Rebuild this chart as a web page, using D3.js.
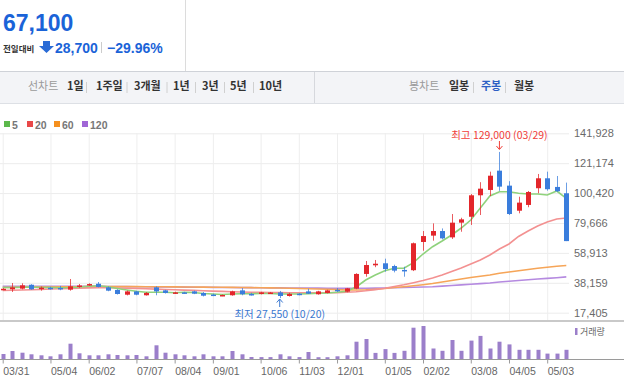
<!DOCTYPE html>
<html><head><meta charset="utf-8">
<script src="https://cdn.jsdelivr.net/npm/d3@7"></script>
<style>
body{margin:0;background:#fff;}
svg{display:block;font-family:"Liberation Sans",Arial,sans-serif;}
.kr{font-family:"Noto Sans CJK KR","Noto Sans",sans-serif;}
</style></head><body>
<svg id="c" width="624" height="392"></svg>
<script>
// ---- data (weekly candles, index 0 = week of 03/31) ----
const opens  = [33600,33650,34100,36800,34000,34700,34600,33400,35500,36400,
                37500,35000,33200,29900,32200,29500,35000,32900,30900,31500,
                32200,31100,30000,29300,29500,32900,30400,30400,30900,31500,
                29000,30600,32200,30200,31100,33300,32000,34100,44300,50300,
                51700,49800,47100,46900,66500,70900,74100,69700,79900,84000,
                98900,102600,116000,105600,88200,92200,103800,110700,104700,100300];
const highs  = [34500,38000,37800,37200,35600,35400,36000,40800,37300,37800,
                38700,35600,33700,32800,32600,31700,35700,33300,32000,31900,
                32700,31800,30600,30000,32700,34500,31200,31900,31800,32500,
                31200,31000,34000,32600,33300,34500,34600,44800,53300,54000,
                54900,50700,49300,66100,74100,79400,75900,85900,83300,99800,
                108000,115300,129000,108700,97900,101900,113700,115300,112300,107700];
const lows   = [33100,31800,33600,33300,32700,33400,33000,32700,34700,36000,
                35000,32300,30000,29400,29500,29300,29500,30700,30400,30600,
                30300,28700,28900,28900,29200,29500,29300,30100,30600,27550,
                28600,29500,30400,29900,30800,31800,31600,33700,42400,49000,
                45900,45400,42400,46300,60400,67400,68300,68600,73600,78300,
                85200,98400,102000,85200,86400,90600,100300,102100,101200,67100];
const closes = [34000,35000,36400,33650,34800,34300,34300,35700,36300,37300,
                35300,32700,30400,32200,29900,31100,32200,31100,31500,31000,
                30600,29200,29600,29700,32200,30200,30000,31500,31400,29000,
                30500,30000,30600,32200,32900,32800,34300,44300,50500,51400,
                47700,46600,46800,65600,70600,74100,69000,79900,82200,98900,
                103500,112500,104900,85900,93800,101200,110700,103100,101700,67100];
const volumes = [500000,800000,630000,470000,370000,270000,470000,1530000,570000,370000,
                 370000,470000,400000,370000,400000,270000,1370000,630000,470000,370000,
                 270000,470000,270000,270000,800000,470000,200000,190000,190000,470000,
                 270000,190000,700000,180000,180000,270000,370000,1730000,2000000,610000,
                 990000,610000,820000,3130000,3300000,1050000,820000,1900000,820000,1840000,
                 2310000,1050000,1730000,1460000,920000,920000,920000,540000,540000,920000];
const ma5   = [34900,34900,35030,35240,34900,34900,34760,34900,35240,35730,
               36080,35380,34200,33160,32260,31560,31560,31560,31290,31560,
               31420,30720,30380,30030,30380,30590,30590,30720,30720,30380,
               30380,30380,30590,30870,31080,31560,32260,35240,40100,43570,
               46560,48220,48220,52110,58150,63220,67170,71330,76190,81750,
               90080,98410,101390,101390,100280,99790,99790,99100,101870,96810];
const ma20  = [32810,32950,33160,33370,33580,33860,34060,34270,34480,34620,
               34690,34690,34550,34410,34200,33990,33790,33510,33300,33090,
               32880,32600,32400,32190,31980,31770,31630,31490,31420,31350,
               31290,31290,31220,31220,31220,31350,31560,31980,32600,33440,
               34410,35590,36770,38230,39750,41490,43570,46000,48430,51210,
               53980,57460,61620,65090,70300,74110,77580,80360,82440,83140];
const ma60  = [34900,34970,35040,35110,35180,35240,35310,35380,35450,35520,
               35590,35560,35530,35500,35480,35450,35410,35370,35320,35280,
               35240,35170,35100,35040,34970,34900,34810,34730,34640,34550,
               34380,34200,34030,33860,33630,33390,33160,33160,33300,33720,
               34200,34900,35450,36080,36840,37670,38710,39750,40800,41840,
               42670,43570,44750,45650,46480,47390,48220,48980,49680,50170];
const ma120 = [35730,35760,35780,35800,35800,35800,35780,35750,35720,35690,
               35660,35610,35560,35500,35440,35380,35330,35270,35210,35160,
               35100,35050,34990,34940,34880,34830,34780,34720,34670,34610,
               34550,34510,34470,34430,34390,34340,34340,34340,34410,34480,
               34550,34700,34860,35030,35240,35450,35860,36280,36700,37120,
               37570,38020,38710,39230,39750,40280,40800,41250,41700,42250];
const tickIdx    = [0,5,9,14,18,22,27,31,35,40,44,49,53,57];
const tickLabels = ["03/31","05/04","06/02","07/07","08/04","09/01","10/06","11/03","12/01","01/05","02/02","03/08","04/05","05/03"];
const priceTicks = [17405,38159,58913,79666,100420,121174,141928];
const maNames  = ["5","20","60","120"];
const highIdx = 52, highLabel = "최고 129,000 (03/29)";
const lowIdx  = 29, lowLabel  = "최저 27,550 (10/20)";
const periodTabs = ["1일","1주일","3개월","1년","3년","5년","10년"];
const candleTabs = ["일봉","주봉","월봉"];

// ---- drawing ----
const svg = d3.select("#c");
const UP="#e3262b", DOWN="#3a7ddc";
const x = d3.scaleLinear().domain([0, closes.length-1]).range([2.7, 566.3]);
const y = d3.scaleLinear().domain([17405,141928]).range([312.7,133.3]);
const yv = d3.scaleLinear().domain([0,3800000]).range([359,321]);

// header
svg.append("line").attr("x1",185.5).attr("x2",185.5).attr("y1",0).attr("y2",71).attr("stroke","#dcdcdc");
svg.append("text").attr("x",3).attr("y",31).attr("font-size",23).attr("font-weight","bold")
   .attr("fill","#1a63d8").text("67,100");
svg.append("text").attr("class","kr").attr("x",3).attr("y",52).attr("font-size",8.5).attr("font-weight","bold")
   .attr("fill","#333").text("전일대비");
svg.append("path").attr("d","M43,41H50V46H54L46.5,53L39,46H43Z").attr("fill","#2a6bd6");
svg.append("text").attr("x",55).attr("y",53).attr("font-size",14).attr("font-weight","bold").attr("fill","#1a63d8").text("28,700");
svg.append("line").attr("x1",101.5).attr("x2",101.5).attr("y1",42).attr("y2",53).attr("stroke","#ccc");
svg.append("text").attr("x",107).attr("y",53).attr("font-size",14).attr("font-weight","bold").attr("fill","#1a63d8").text("\u221229.96%");

// tab bar
svg.append("rect").attr("x",0).attr("y",71).attr("width",624).attr("height",33).attr("fill","#f3f4f7");
svg.append("line").attr("x1",0).attr("x2",624).attr("y1",71.5).attr("y2",71.5).attr("stroke","#cfd2d8");
svg.append("line").attr("x1",0).attr("x2",624).attr("y1",103.5).attr("y2",103.5).attr("stroke","#dde0e5");
svg.append("line").attr("x1",314.5).attr("x2",314.5).attr("y1",72).attr("y2",103).attr("stroke","#d6d8dd");
const tabY = 90;
svg.append("text").attr("class","kr").attr("x",28).attr("y",tabY).attr("font-size",11).attr("fill","#9a9a9a").text("선차트");
const ptX = [67,96,134,173,202,230,259];
const ptSep = [86,126.5,166.5,195,224,253];
periodTabs.forEach((t,i)=>svg.append("text").attr("class","kr").attr("x",ptX[i]).attr("y",tabY)
   .attr("font-size",11).attr("font-weight","bold").attr("fill","#333").text(t));
ptSep.forEach(s=>svg.append("line").attr("x1",s+.5).attr("x2",s+.5).attr("y1",82).attr("y2",93).attr("stroke","#d0d0d0"));
svg.append("text").attr("class","kr").attr("x",409).attr("y",tabY).attr("font-size",11).attr("fill","#9a9a9a").text("봉차트");
const ctX=[449,481,514];
candleTabs.forEach((t,i)=>svg.append("text").attr("class","kr").attr("x",ctX[i]).attr("y",tabY)
   .attr("font-size",11).attr("font-weight","bold").attr("fill", i===1?"#2c5fc4":"#333").text(t));
[473,505].forEach(s=>svg.append("line").attr("x1",s+.5).attr("x2",s+.5).attr("y1",82).attr("y2",93).attr("stroke","#d0d0d0"));

// legend
const maColors=["#5cb84b","#e94848","#f5901f","#a066d6"];
const legX=[4,27,54,82];
maNames.forEach((n,i)=>{
  svg.append("rect").attr("x",legX[i]).attr("y",121).attr("width",6).attr("height",6).attr("fill",maColors[i]);
  svg.append("text").attr("x",legX[i]+8).attr("y",128.5).attr("font-size",10.5).attr("font-weight","bold").attr("fill","#777").text(n);
});

// gridlines
const gy = svg.append("g").call(d3.axisRight(y).tickValues(priceTicks).tickSize(569).tickFormat(""));
gy.select(".domain").remove(); gy.selectAll("line").attr("stroke","#ececec");
const gx = svg.append("g").attr("transform","translate(0,133)")
   .call(d3.axisBottom(x).tickValues(tickIdx).tickSize(187).tickFormat(""));
gx.select(".domain").remove(); gx.selectAll("line").attr("stroke","#eeeeee");

// right axis labels
const ay = svg.append("g").attr("transform","translate(574,0)")
   .call(d3.axisRight(y).tickValues(priceTicks).tickSize(0).tickPadding(0).tickFormat(d3.format(",")));
ay.select(".domain").remove();
ay.selectAll("text").attr("font-size",11).attr("fill","#6a6a6a").attr("font-family","Liberation Sans, Arial");

// moving averages
const maData=[ma5,ma20,ma60,ma120];
const maLine=["#8fd27c","#f39191","#f6a558","#b58ae0"];
const line = d3.line().x((d,i)=>x(i)).y(d=>y(d));
[3,2,1,0].forEach(k=>svg.append("path").datum(maData[k]).attr("d",line).attr("fill","none")
   .attr("stroke",maLine[k]).attr("stroke-width",1.6));

// candles
const idx = d3.range(closes.length);
const cg = svg.append("g");
cg.selectAll("line").data(idx).join("line")
  .attr("x1",i=>Math.round(x(i))+.5).attr("x2",i=>Math.round(x(i))+.5)
  .attr("y1",i=>y(highs[i])).attr("y2",i=>y(lows[i]))
  .attr("stroke",i=>closes[i]>=opens[i]?UP:DOWN).attr("stroke-opacity",.75);
cg.selectAll("rect").data(idx).join("rect")
  .attr("x",i=>Math.round(x(i))-2).attr("width",5)
  .attr("y",i=>y(Math.max(opens[i],closes[i])))
  .attr("height",i=>Math.max(1.5, Math.abs(y(opens[i])-y(closes[i]))))
  .attr("fill",i=>closes[i]>=opens[i]?UP:DOWN);

// high / low annotations
svg.append("text").attr("class","kr").attr("x",x(highIdx)).attr("y",139).attr("text-anchor","middle")
  .attr("font-size",10.5).attr("fill","#f0403a").text(highLabel);
svg.append("path").attr("d",`M${x(highIdx)},141V149M${x(highIdx)-3},146L${x(highIdx)},149.5L${x(highIdx)+3},146`)
  .attr("stroke","#f0403a").attr("fill","none");
svg.append("text").attr("class","kr").attr("x",x(lowIdx)).attr("y",317.5).attr("text-anchor","middle")
  .attr("font-size",10.5).attr("fill","#3a78d0").text(lowLabel);
svg.append("path").attr("d",`M${x(lowIdx)},299.5V307M${x(lowIdx)-3},302.5L${x(lowIdx)},299L${x(lowIdx)+3},302.5`)
  .attr("stroke","#3a78d0").attr("fill","none");

// volume panel
svg.append("rect").attr("x",0).attr("y",320).attr("width",624).attr("height",2).attr("fill","#c9c9c9");
svg.append("g").selectAll("rect").data(idx).join("rect")
  .attr("x",i=>Math.round(x(i))-1.5).attr("width",4)
  .attr("y",i=>yv(volumes[i])).attr("height",i=>yv(0)-yv(volumes[i]))
  .attr("fill","#9b7fca");
svg.append("line").attr("x1",0).attr("x2",624).attr("y1",359.5).attr("y2",359.5).attr("stroke","#9a9a9a");
svg.append("rect").attr("x",575).attr("y",328).attr("width",2.5).attr("height",7).attr("fill","#9b7fca");
svg.append("text").attr("class","kr").attr("x",580).attr("y",334.5).attr("font-size",9).attr("fill","#666").text("거래량");

// date axis
const ax = svg.append("g").attr("transform","translate(0,359.5)")
  .call(d3.axisBottom(x).tickValues(tickIdx).tickSize(4).tickPadding(4).tickFormat((d,i)=>tickLabels[i]));
ax.select(".domain").remove();
ax.selectAll("line").attr("stroke","#9a9a9a");
ax.selectAll("text").attr("text-anchor","start").attr("dx",0).attr("font-size",10.5).attr("fill","#666");
</script>
</body></html>
